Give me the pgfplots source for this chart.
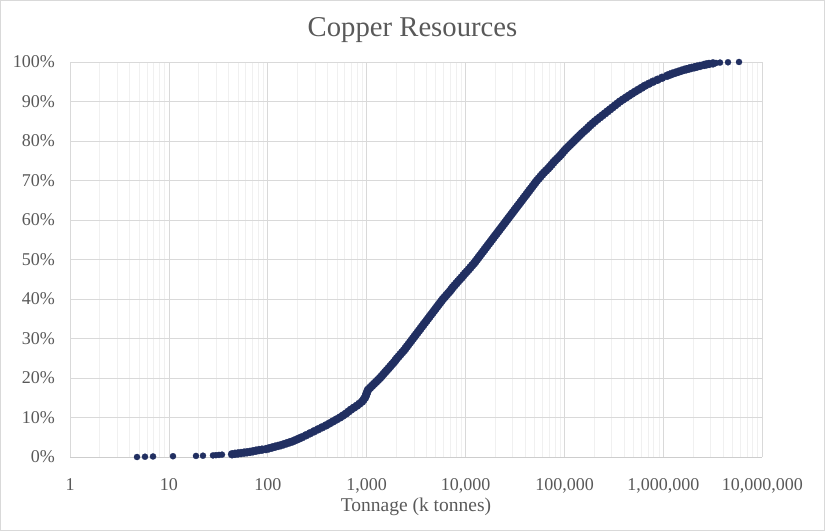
\documentclass[border=0pt]{standalone}
\usepackage{fontspec}
\setmainfont{Liberation Serif}
\usepackage{pgfplots}
\pgfplotsset{compat=1.18}
\definecolor{navy}{RGB}{33,47,97}
\definecolor{gmajor}{RGB}{217,217,217}
\definecolor{gminor}{RGB}{240,240,240}
\definecolor{gtext}{RGB}{89,89,89}
\definecolor{gborder}{RGB}{217,217,217}
\definecolor{gaxis}{RGB}{205,205,205}
\begin{document}
\begin{tikzpicture}
\path[use as bounding box] (0,0) rectangle (825bp,531bp);
\draw[gborder, line width=1bp] (0.5bp,0.5bp) rectangle (824.5bp,530.5bp);
\begin{axis}[
  at={(70bp,74bp)}, anchor=south west,
  scale only axis, width=692.3bp, height=395bp,
  xmode=log, log basis x=10,
  xmin=1, xmax=1e7, ymin=0, ymax=100,
  xtick={1,10,100,1000,10000,100000,1000000,10000000},
  xticklabels={1,10,100,{1,000},{10,000},{100,000},{1,000,000},{10,000,000}},
  minor xtick={2,3,4,5,6,7,8,9,20,30,40,50,60,70,80,90,200,300,400,500,600,700,800,900,2000,3000,4000,5000,6000,7000,8000,9000,20000,30000,40000,50000,60000,70000,80000,90000,200000,300000,400000,500000,600000,700000,800000,900000,2000000,3000000,4000000,5000000,6000000,7000000,8000000,9000000},
  ytick={0,10,20,30,40,50,60,70,80,90,100},
  yticklabels={0\%,10\%,20\%,30\%,40\%,50\%,60\%,70\%,80\%,90\%,100\%},
  xmajorgrids=true, ymajorgrids=true, xminorgrids=true,
  major grid style={draw=gmajor, line width=0.75bp},
  minor grid style={draw=gminor, line width=0.75bp},
  major tick length=0pt, minor tick length=0pt,
  axis x line*=bottom, axis y line*=left,
  x axis line style={draw=gaxis, line width=0.75bp, -},
  y axis line style={draw=none, -},
  tick label style={font=\fontsize{18bp}{21bp}\selectfont, text=gtext},
  xticklabel style={anchor=base, inner sep=0pt, yshift=-34bp},
  yticklabel style={anchor=east, inner sep=0pt, xshift=-15bp},
  clip=false,
]
\addplot[only marks, mark=*, mark size=3.1bp, mark options={fill=navy, draw=navy, line width=0.2bp}] table {
x y
4.76 0
5.73 0.07
6.91 0.13
11.0 0.2
18.8 0.27
22.1 0.33
27.9 0.4
29.9 0.47
32.1 0.53
34.4 0.6
3403000 99.75
3736000 99.85
4500000 99.93
5814000 100.0
};
\addplot[only marks, mark=*, mark size=4.1bp, mark options={fill=navy, draw=navy, line width=0.2bp}] table {
x y
43.5 0.7
46.6 0.8
50.0 0.9
53.6 1.0
57.5 1.1
61.6 1.2
66.1 1.3
70.8 1.45
76.0 1.6
81.5 1.75
87.4 1.85
95.9 2.0
102.8 2.2
110.3 2.4
118.2 2.6
126.8 2.8
136.0 3.0
145.8 3.25
156.4 3.5
167.7 3.75
179.8 4.0
192.8 4.33
206.8 4.67
221.7 5.0
243.4 5.5
267.2 6.0
293.3 6.5
321.8 7.0
353.2 7.5
387.7 8.0
420.6 8.5
456.3 9.0
495.0 9.5
537.0 10.0
576.0 10.5
617.6 11.0
654.6 11.5
694.0 12.0
744.0 12.5
797.8 13.0
845.7 13.5
896.5 14.0
928.4 14.5
961.2 15.0
979.3 15.5
995.4 16.0
1011.8 16.5
1030.6 17.0
1080 17.5
1131 18.0
1185 18.5
1242 19.0
1301 19.5
1363 20.0
1421 20.5
1479 21.0
1539 21.5
1605 22.0
1673 22.5
1740 23.0
1810 23.5
1888 24.0
1955 24.5
2025 25.0
2112 25.5
2197 26.0
2286 26.5
2383 27.0
2468 27.5
2555 28.0
2647 28.5
2741 29.0
2838 29.5
2939 30.0
3043 30.5
3151 31.0
3264 31.5
3380 32.0
3499 32.5
3624 33.0
3752 33.5
3886 34.0
4024 34.5
4167 35.0
4315 35.5
4468 36.0
4627 36.5
4791 37.0
4962 37.5
5138 38.0
5321 38.5
5510 39.0
5706 39.5
5908 40.0
6161 40.5
6410 41.0
6669 41.5
6955 42.0
7201 42.5
7457 43.0
7777 43.5
8091 44.0
8418 44.5
8778 45.0
9154 45.5
9524 46.0
9908 46.5
10332 47.0
10775 47.5
11209 48.0
11661 48.5
12160 49.0
12592 49.5
13040 50.0
13503 50.5
13983 51.0
14480 51.5
14995 52.0
15528 52.5
16080 53.0
16651 53.5
17243 54.0
17856 54.5
18491 55.0
19148 55.5
19829 56.0
20534 56.5
21264 57.0
22020 57.5
22803 58.0
23614 58.5
24453 59.0
25322 59.5
26223 60.0
27155 60.5
28120 61.0
29120 61.5
30155 62.0
31227 62.5
32337 63.0
33487 63.5
34677 64.0
35910 64.5
37187 65.0
38509 65.5
39878 66.0
41296 66.5
42764 67.0
44284 67.5
45858 68.0
47489 68.5
49177 69.0
50925 69.5
52736 70.0
54960 70.5
57180 71.0
59490 71.5
62040 72.0
65000 72.5
68110 73.0
71020 73.5
73890 74.0
76880 74.5
80150 75.0
83990 75.5
87990 76.0
91750 76.5
95460 77.0
99310 77.5
103560 78.0
108490 78.5
113660 79.0
119080 79.5
124760 80.0
130700 80.5
136930 81.0
143450 81.5
150290 82.0
158200 82.5
166880 83.0
174860 83.5
183190 84.0
193260 84.5
203420 85.0
215620 85.5
228560 86.0
242250 86.5
256770 87.0
272180 87.5
288510 88.0
305800 88.5
324140 89.0
343560 89.5
364170 90.0
390370 90.5
418550 91.0
448940 91.5
481470 92.0
518680 92.5
560130 93.0
604800 93.5
651630 94.0
715200 94.5
785100 95.0
871600 95.5
968100 96.0
1087500 96.5
1152700 96.75
1221800 97.0
1310000 97.25
1404900 97.5
1506600 97.75
1615600 98.0
1712400 98.17
1814900 98.33
1924200 98.5
2063000 98.67
2186700 98.83
2345000 99.0
2574000 99.25
2728100 99.4
2892000 99.5
3173000 99.65
};
\end{axis}
\node[anchor=base, text=gtext, font=\fontsize{28.7bp}{34bp}\selectfont] at (412.5bp,494bp) {Copper Resources};
\node[anchor=base, text=gtext, font=\fontsize{19.5bp}{23bp}\selectfont] at (416bp,20bp) {Tonnage (k tonnes)};
\end{tikzpicture}
\end{document}
